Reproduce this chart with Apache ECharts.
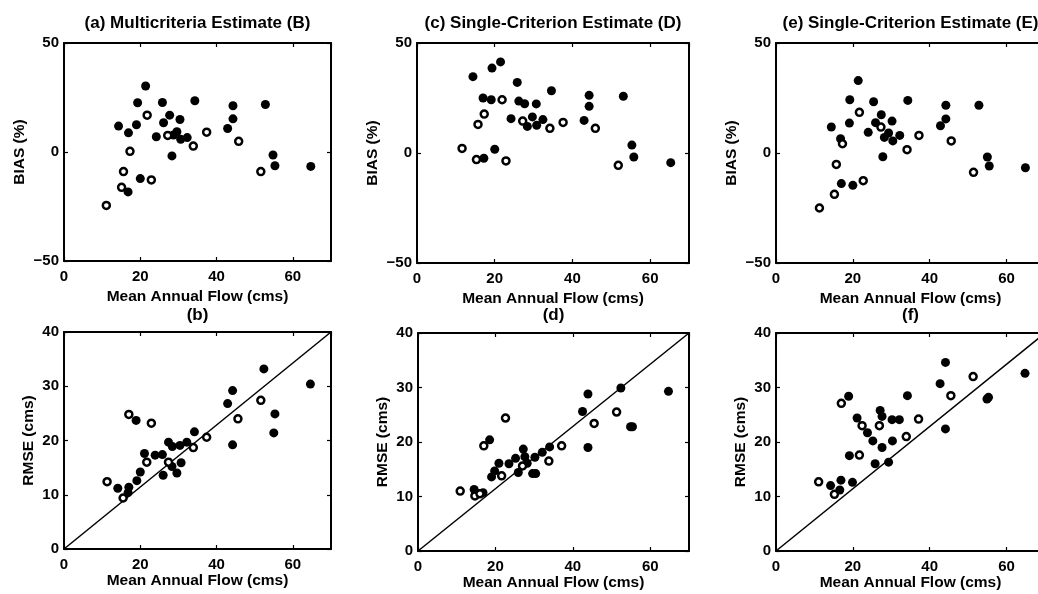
<!DOCTYPE html>
<html>
<head>
<meta charset="utf-8">
<script src="https://cdn.jsdelivr.net/npm/echarts@6/dist/echarts.min.js"></script>
<style>html,body{margin:0;padding:0;background:#fff}#c{width:1038px;height:594px}</style>
</head>
<body>
<div id="c"></div>
<script>
// ---- Data ----
var titles = ['(a) Multicriteria Estimate (B)', '(c) Single-Criterion Estimate (D)', '(e) Single-Criterion Estimate (E)', '(b)', '(d)', '(f)'];
var xName = 'Mean Annual Flow (cms)';
var biasName = 'BIAS (%)';
var rmseName = 'RMSE (cms)';
var xTicks = [0, 20, 40, 60];
var biasTicks = [-50, 0, 50];
var rmseTicks = [0, 10, 20, 30, 40];
var diagLine = [[0, 0], [70, 40]];

// Panel (a) BIAS, multicriteria
var aFilled = [[21.4,30.3],[19.3,22.6],[25.8,22.7],[34.3,23.5],[14.3,11.9],[19.0,12.5],[16.9,8.8],[26.1,13.4],[27.7,16.9],[30.4,14.9],[24.2,7.0],[29.6,9.3],[28.7,7.8],[30.6,5.8],[32.3,6.6],[28.3,-1.8],[44.3,21.2],[44.3,15.2],[42.9,10.8],[52.8,21.8],[54.8,-1.4],[55.3,-6.3],[64.7,-6.6],[20.0,-12.2],[16.8,-18.3]];
var aOpen = [[21.8,16.9],[17.3,0.3],[15.6,-9.0],[15.1,-16.2],[22.9,-12.8],[11.1,-24.5],[27.2,7.6],[33.9,2.7],[37.4,9.1],[45.8,4.9],[51.6,-9.0]];

// Panel (c) BIAS, single-criterion D
var cFilled = [[14.4,34.7],[19.3,38.6],[21.5,41.4],[25.8,32.1],[34.6,28.3],[17.0,25.0],[19.1,24.2],[26.2,23.6],[27.7,22.4],[30.7,22.3],[24.2,15.6],[29.7,16.4],[28.4,12.1],[30.8,12.6],[32.4,15.2],[44.3,26.2],[44.3,21.2],[43.0,14.8],[53.1,25.8],[55.3,3.6],[55.8,-1.8],[65.3,-4.4],[17.2,-2.4],[20.0,1.7]];
var cOpen = [[11.6,2.1],[15.3,-3.0],[15.7,13.0],[17.3,17.7],[21.9,24.2],[22.9,-3.6],[27.2,14.5],[34.2,11.2],[37.6,13.9],[45.9,11.2],[51.8,-5.6]];

// Panel (e) BIAS, single-criterion E
var eFilled = [[21.4,32.9],[19.2,24.2],[25.4,23.3],[34.3,23.9],[14.4,11.8],[19.1,13.6],[16.8,6.5],[27.4,17.4],[25.9,13.8],[30.2,14.5],[24.0,9.4],[29.3,9.1],[28.2,7.1],[30.4,5.5],[32.2,8.0],[27.8,-1.7],[44.2,21.7],[44.2,15.5],[42.8,12.4],[52.8,21.7],[55.0,-1.8],[55.5,-5.9],[64.9,-6.7],[20.0,-14.7],[17.0,-13.9]];
var eOpen = [[21.7,18.5],[17.3,4.2],[15.7,-5.2],[15.2,-18.8],[22.7,-12.6],[11.3,-25.0],[27.3,11.8],[34.1,1.5],[37.2,8.0],[45.6,5.5],[51.4,-8.8]];

// Panel (b) RMSE, multicriteria
var bFilled = [[14.1,11.2],[17.0,11.4],[16.8,10.4],[19.1,12.6],[20.0,14.2],[18.9,23.7],[21.1,17.6],[23.9,17.3],[25.8,17.4],[26.0,13.6],[27.4,19.7],[28.4,18.9],[30.4,19.1],[32.2,19.7],[28.3,15.2],[29.6,14.0],[30.7,15.9],[34.2,21.6],[42.9,26.8],[44.2,29.2],[44.2,19.2],[52.4,33.2],[55.3,24.9],[55.0,21.4],[64.6,30.4]];
var bOpen = [[17.0,24.8],[22.9,23.2],[11.3,12.4],[15.5,9.4],[21.7,16.0],[27.4,16.0],[33.9,18.7],[37.4,20.6],[45.6,24.0],[51.6,27.4]];

// Panel (d) RMSE, single-criterion D
var dFilled = [[14.5,11.3],[16.8,10.7],[18.5,20.4],[19.0,13.6],[19.8,14.7],[20.9,16.1],[23.5,16.0],[25.2,17.0],[25.9,14.4],[27.2,18.7],[27.6,17.3],[28.2,16.1],[29.6,14.2],[30.4,14.2],[30.2,17.2],[32.1,18.1],[34.0,19.1],[42.5,25.6],[43.9,28.8],[43.9,19.0],[52.4,29.9],[54.9,22.8],[55.4,22.8],[64.7,29.3]];
var dOpen = [[10.9,11.0],[14.7,10.1],[16.0,10.5],[17.0,19.3],[22.6,24.4],[21.6,13.8],[27.0,15.6],[33.8,16.5],[37.1,19.3],[45.5,23.4],[51.3,25.5]];

// Panel (f) RMSE, single-criterion E
var fFilled = [[18.9,28.4],[21.1,24.4],[27.1,25.8],[27.6,24.7],[30.2,24.1],[32.1,24.1],[23.8,21.7],[25.2,20.2],[27.6,19.0],[30.3,20.2],[19.1,17.5],[25.8,16.0],[29.3,16.3],[34.2,28.5],[14.2,12.0],[16.9,13.0],[16.6,11.2],[19.9,12.6],[44.1,34.6],[42.7,30.7],[44.1,22.4],[54.9,27.9],[55.3,28.2],[64.8,32.6]];
var fOpen = [[17.0,27.1],[22.4,23.0],[26.9,23.0],[21.7,17.6],[11.1,12.7],[15.2,10.4],[33.9,21.0],[37.1,24.2],[45.5,28.5],[51.3,32.0]];

// ---- Layout ----
var FONT = 'Liberation Sans, Arial, Helvetica, sans-serif';
var grids = [
  {left: 64, top: 43, width: 267, height: 218},
  {left: 417, top: 43, width: 272, height: 220},
  {left: 776, top: 43, width: 269, height: 220},
  {left: 64, top: 332, width: 267, height: 217},
  {left: 418, top: 333, width: 271, height: 218},
  {left: 776, top: 333, width: 269, height: 218}
].map(function (g) { g.outerBoundsMode = 'none'; g.containLabel = false; return g; });
var panels = [
  {filled: aFilled, open: aOpen, kind: 'bias'},
  {filled: cFilled, open: cOpen, kind: 'bias'},
  {filled: eFilled, open: eOpen, kind: 'bias'},
  {filled: bFilled, open: bOpen, kind: 'rmse'},
  {filled: dFilled, open: dOpen, kind: 'rmse'},
  {filled: fFilled, open: fOpen, kind: 'rmse'}
];

var xAxes = [], yAxes = [], series = [], graphics = [];
var lineCol = '#000';
function tickInside() { return {show: true, inside: true, length: 4, lineStyle: {color: lineCol, width: 1.2}}; }
function fmt(v) { return String(v).replace('-', '\u2212'); }
var labelStyle = {fontFamily: FONT, fontWeight: 'bold', fontSize: 15, color: '#000'};
var nameStyle = {fontFamily: FONT, fontWeight: 'bold', fontSize: 15.5, color: '#000'};
panels.forEach(function (p, i) {
  var isBias = p.kind === 'bias';
  var yTicks = isBias ? biasTicks : rmseTicks;
  var yMin = yTicks[0], yMax = yTicks[yTicks.length - 1];
  var yInt = yTicks[1] - yTicks[0];
  var xInt = xTicks[1] - xTicks[0];
  var base = {
    gridIndex: i, type: 'value', min: xTicks[0], max: 70, interval: xInt,
    axisLine: {show: true, onZero: false, lineStyle: {color: lineCol, width: 2}},
    splitLine: {show: false}, axisTick: tickInside()
  };
  xAxes.push(Object.assign({}, base, {
    position: 'bottom',
    name: xName, nameLocation: 'middle', nameGap: isBias ? 28 : 22,
    nameTextStyle: nameStyle,
    axisLabel: Object.assign({show: true, showMaxLabel: false, margin: 8, formatter: fmt}, labelStyle)
  }));
  xAxes.push(Object.assign({}, base, {position: 'top', axisLabel: {show: false}}));
  var ybase = {
    gridIndex: i, type: 'value', min: yMin, max: yMax, interval: yInt,
    axisLine: {show: true, onZero: false, lineStyle: {color: lineCol, width: 2}},
    splitLine: {show: false}, axisTick: tickInside()
  };
  yAxes.push(Object.assign({}, ybase, {
    position: 'left',
    name: isBias ? biasName : rmseName, nameLocation: 'middle', nameGap: isBias ? 36 : 27,
    nameTextStyle: nameStyle,
    axisLabel: Object.assign({show: true, margin: 5, formatter: fmt}, labelStyle)
  }));
  yAxes.push(Object.assign({}, ybase, {position: 'right', axisLabel: {show: false}}));

  var xi = i * 2, yi = i * 2;
  if (!isBias) {
    series.push({
      type: 'line', xAxisIndex: xi, yAxisIndex: yi, data: diagLine,
      symbol: 'none', silent: true, lineStyle: {color: '#000', width: 1.5}, z: 1
    });
  }
  series.push({
    type: 'scatter', xAxisIndex: xi, yAxisIndex: yi, data: p.filled,
    symbol: 'circle', symbolSize: 9, silent: true,
    itemStyle: {color: '#000', opacity: 1}, z: 2
  });
  series.push({
    type: 'scatter', xAxisIndex: xi, yAxisIndex: yi, data: p.open,
    symbol: 'circle', symbolSize: 7, silent: true,
    itemStyle: {color: '#fff', borderColor: '#000', borderWidth: 2.5, opacity: 1}, z: 3
  });

  var g = grids[i];
  graphics.push({
    type: 'text', x: g.left + g.width / 2, y: isBias ? 23 : 315,
    style: {text: titles[i], font: 'bold 17px ' + FONT, fill: '#000', textAlign: 'center', textVerticalAlign: 'middle'}
  });
});

var chart = echarts.init(document.getElementById('c'), null, {renderer: 'canvas'});
chart.setOption({
  animation: false,
  backgroundColor: '#fff',
  grid: grids,
  xAxis: xAxes,
  yAxis: yAxes,
  series: series,
  graphic: graphics
});
</script>
</body>
</html>
